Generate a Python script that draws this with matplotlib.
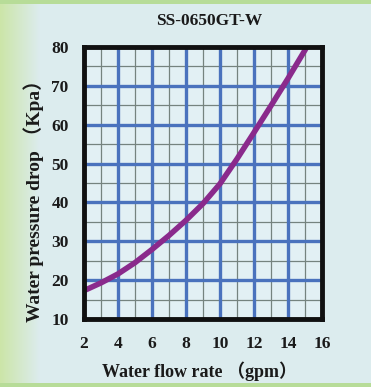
import matplotlib
matplotlib.use("Agg")
import matplotlib.pyplot as plt
import numpy as np
from matplotlib.patches import Rectangle

# Data
title = "SS-0650GT-W"
flow_gpm = [2, 3, 4, 5, 6, 7, 8, 9, 10, 11, 12, 13, 14, 15, 15.1]
pressure_kpa = [17.3, 19.3, 21.6, 24.5, 27.9, 31.5, 35.4, 39.7, 44.8, 51.2, 58.0, 64.9, 71.9, 79.2, 80.0]
x_ticks = [2, 4, 6, 8, 10, 12, 14, 16]
y_ticks = [10, 20, 30, 40, 50, 60, 70, 80]
x_label = "Water flow rate （gpm）"
y_label = "Water pressure drop （Kpa）"

W, H = 371, 387
fig = plt.figure(figsize=(W / 100, H / 100), dpi=100)
fig.patch.set_facecolor("#dcecee")

# background: green frame with gradient on the left
bg = fig.add_axes([0, 0, 1, 1])
bg.axis("off")
n = 40
img = np.zeros((1, n, 3))
c_green = np.array([0.80, 0.90, 0.66])
c_panel = np.array([0.863, 0.925, 0.933])
for i in range(n):
    t = i / (n - 1)
    img[0, i] = c_green * (1 - t) + c_panel * t
bg.imshow(img, extent=[0, 40, H, 0], aspect="auto")
bg.add_patch(Rectangle((0, 0), W, 4, color="#b7dc98", lw=0))
bg.add_patch(Rectangle((0, 383), W, 4, color="#b7dc98", lw=0))
bg.set_xlim(0, W)
bg.set_ylim(H, 0)

serif = ["Liberation Serif", "Noto Sans CJK SC"]
txt = "#1a1a1a"

ax = fig.add_axes([84 / W, 1 - 319 / H, (322 - 84) / W, (319 - 47) / H])
ax.set_facecolor("#e2f0f4")
ax.set_xlim(2, 16)
ax.set_ylim(10, 80)

# grid
for xv in np.arange(3, 16, 1):
    if xv % 2 == 0:
        ax.axvline(xv, color="#4a72bd", lw=2.4, zorder=2)
    else:
        ax.axvline(xv, color="#75837f", lw=0.9, zorder=1)
for yv in np.arange(15, 80, 5):
    if yv % 10 == 0:
        ax.axhline(yv, color="#4a72bd", lw=2.4, zorder=2)
    else:
        ax.axhline(yv, color="#75837f", lw=0.9, zorder=1)

ax.plot(flow_gpm, pressure_kpa, color="#8a2a8c", lw=4, solid_capstyle="round",
        solid_joinstyle="round", zorder=4)

for s in ax.spines.values():
    s.set_linewidth(3.5)
    s.set_color("#111111")
    s.set_zorder(5)

ax.set_xticks(x_ticks)
ax.set_yticks(y_ticks)
ax.tick_params(axis="x", length=0, pad=12)
ax.tick_params(axis="y", length=0, pad=11)
for lab in ax.get_xticklabels() + ax.get_yticklabels():
    lab.set_family(serif)
    lab.set_fontweight("bold")
    lab.set_fontsize(12.5)
    lab.set_color(txt)

fig.text(209 / W, 1 - 21 / H, title, fontfamily=serif, fontweight="bold", fontsize=12.5,
         ha="center", va="center", color=txt)
ax.set_xlabel(x_label, fontfamily=serif, fontweight="bold", fontsize=13, color=txt)
ax.set_ylabel(y_label, fontfamily=serif, fontweight="bold", fontsize=14, color=txt)
ax.xaxis.set_label_coords(0.485, -0.155)
ax.yaxis.set_label_coords(-0.17, 0.45)

fig.savefig("out.png", dpi=100, facecolor=fig.get_facecolor())
